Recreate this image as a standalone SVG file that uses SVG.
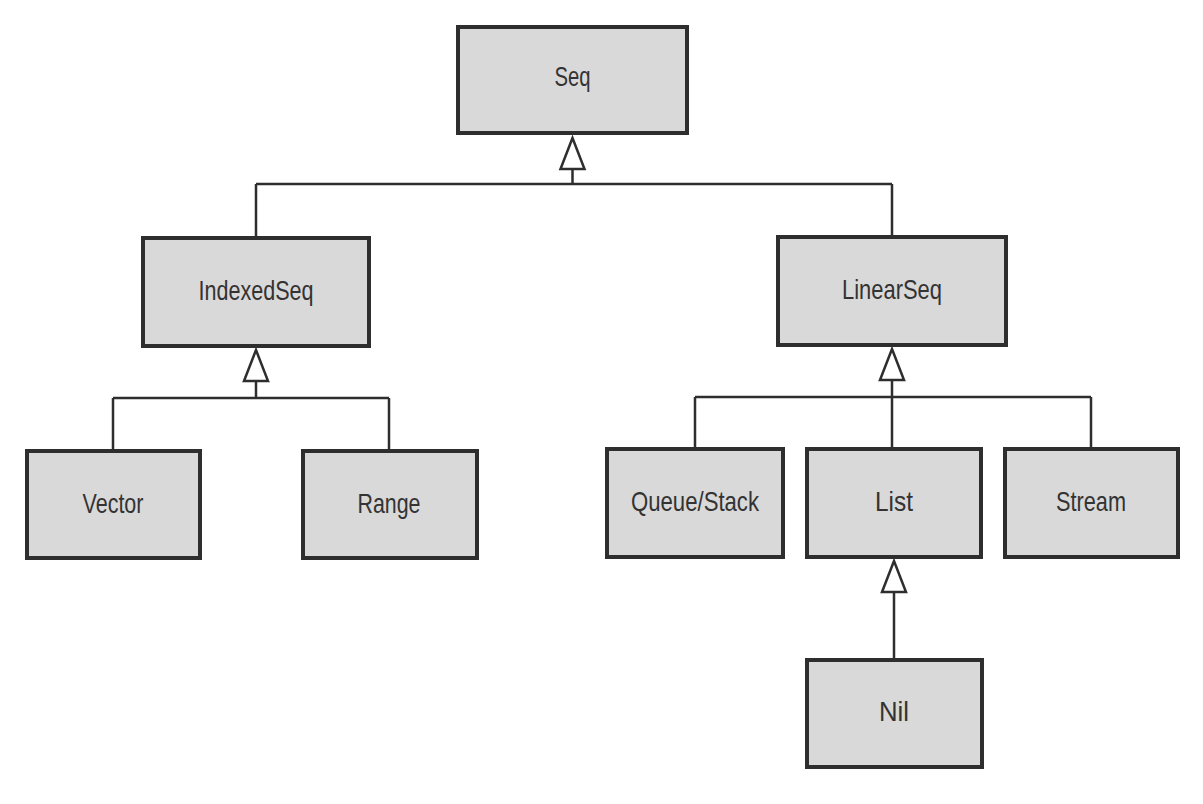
<svg xmlns="http://www.w3.org/2000/svg" width="1203" height="804" viewBox="0 0 1203 804">
<style>
.box{fill:#d9d9d9;stroke:#2e2e2e;stroke-width:4}
.lbl{font-family:"Liberation Sans","Noto Sans",sans-serif;font-size:28px;fill:#333;text-anchor:middle;dominant-baseline:central}
.ln{fill:none;stroke:#2e2e2e;stroke-width:2.5}
.tri{fill:#fff;stroke:#2e2e2e;stroke-width:2.5;stroke-linejoin:miter}
</style>
<rect width="1203" height="804" fill="#fff"/>
<g id="connectors">
<path class="ln" d="M572.5 169 V184 M256 184 H892 M256 184 V238 M892 184 V237"/>
<polygon class="tri" points="572.5,138 560.5,169 584.5,169"/>
<path class="ln" d="M256 381 V398 M113 398 H389 M113 398 V451 M389 398 V451"/>
<polygon class="tri" points="256,350 244,381 268,381"/>
<path class="ln" d="M892 380 V449 M695 397 H1091 M695 397 V449 M1091 397 V449"/>
<polygon class="tri" points="892,349 880,380 904,380"/>
<path class="ln" d="M894 592 V660"/>
<polygon class="tri" points="894,561 882,592 906,592"/>
</g>
<g id="seq"><rect class="box" x="458" y="27" width="229" height="106"/><text class="lbl" x="572.5" y="76" textLength="36" lengthAdjust="spacingAndGlyphs">Seq</text></g>
<g id="indexedseq"><rect class="box" x="143" y="238" width="226" height="108"/><text class="lbl" x="256" y="290" textLength="115" lengthAdjust="spacingAndGlyphs">IndexedSeq</text></g>
<g id="linearseq"><rect class="box" x="778" y="237" width="228" height="108"/><text class="lbl" x="892" y="289" textLength="100" lengthAdjust="spacingAndGlyphs">LinearSeq</text></g>
<g id="vector"><rect class="box" x="27" y="451" width="173" height="107"/><text class="lbl" x="113" y="503" textLength="61" lengthAdjust="spacingAndGlyphs">Vector</text></g>
<g id="range"><rect class="box" x="303" y="451" width="174" height="107"/><text class="lbl" x="389" y="503" textLength="63" lengthAdjust="spacingAndGlyphs">Range</text></g>
<g id="queuestack"><rect class="box" x="607" y="449" width="176" height="108"/><text class="lbl" x="695" y="501" textLength="128" lengthAdjust="spacingAndGlyphs">Queue/Stack</text></g>
<g id="list"><rect class="box" x="807" y="449" width="174" height="108"/><text class="lbl" x="894" y="501" textLength="38" lengthAdjust="spacingAndGlyphs">List</text></g>
<g id="stream"><rect class="box" x="1005" y="449" width="173" height="108"/><text class="lbl" x="1091" y="501" textLength="70" lengthAdjust="spacingAndGlyphs">Stream</text></g>
<g id="nil"><rect class="box" x="807" y="660" width="175" height="107"/><text class="lbl" x="894" y="711" textLength="30" lengthAdjust="spacingAndGlyphs">Nil</text></g>
</svg>
